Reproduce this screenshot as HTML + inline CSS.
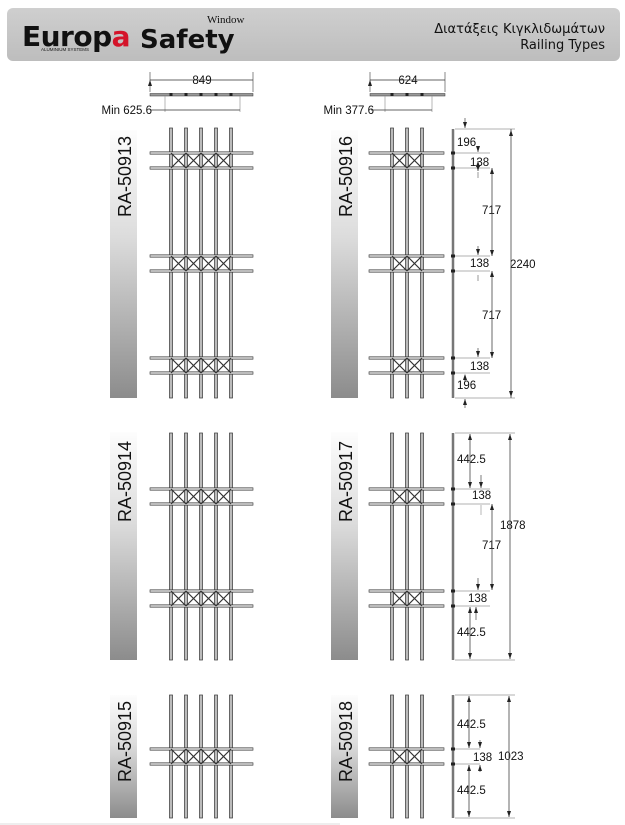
<!DOCTYPE html>
<html><head><meta charset="utf-8"><style>
html,body{margin:0;padding:0;background:#fff;width:625px;height:825px;overflow:hidden}
svg{display:block}
text{font-family:"Liberation Sans",Arial,sans-serif;fill:#111}
</style></head><body>
<svg id="s" width="625" height="825" viewBox="0 0 625 825" xmlns="http://www.w3.org/2000/svg">
<defs>
<linearGradient id="hg" x1="0" y1="0" x2="0" y2="1"><stop offset="0" stop-color="#cfcfcf"/><stop offset="1" stop-color="#bdbdbd"/></linearGradient>
<linearGradient id="lg" x1="0" y1="0" x2="0" y2="1"><stop offset="0" stop-color="#fdfdfd"/><stop offset="0.4" stop-color="#dcdcdc"/><stop offset="1" stop-color="#8c8c8c"/></linearGradient>
</defs>
<rect x="7" y="8" width="613" height="53" rx="6" fill="url(#hg)"/>
<text x="22" y="46" font-size="28" font-weight="bold" fill="#111" style="font-family:'DejaVu Sans',sans-serif;letter-spacing:-0.5px">Europ<tspan fill="#d4142a">a</tspan></text>
<text x="41" y="51" font-size="4.5" fill="#111">ALUMINIUM SYSTEMS</text>
<text x="140" y="48" font-size="26" font-weight="bold" fill="#555" style="font-family:'DejaVu Sans',sans-serif">Safety</text>
<text x="207" y="23" font-size="11" fill="#666" style="font-family:'Liberation Serif',serif">Window</text>
<text x="605" y="33" font-size="13" text-anchor="end" style="font-family:'DejaVu Sans',sans-serif" fill="#222">Διατάξεις Κιγκλιδωμάτων</text>
<text x="605" y="49" font-size="13" text-anchor="end" style="font-family:'DejaVu Sans',sans-serif" fill="#222">Railing Types</text>

<g font-size="11.5">
<text x="202" y="84" text-anchor="middle">849</text>
<text x="152" y="114" text-anchor="end">Min 625.6</text>
<text x="408" y="84" text-anchor="middle">624</text>
<text x="374" y="114" text-anchor="end">Min 377.6</text>

<text x="457" y="146">196</text>
<text x="470" y="166">138</text>
<text x="482" y="214">717</text>
<text x="470" y="267">138</text>
<text x="482" y="319">717</text>
<text x="470" y="370">138</text>
<text x="457" y="389">196</text>
<text x="510" y="268">2240</text>

<text x="457" y="463">442.5</text>
<text x="472" y="499">138</text>
<text x="482" y="549">717</text>
<text x="500" y="529">1878</text>
<text x="468" y="602">138</text>
<text x="457" y="636">442.5</text>

<text x="457" y="728">442.5</text>
<text x="473" y="761">138</text>
<text x="498" y="760">1023</text>
<text x="457" y="794">442.5</text>
</g>
<g>
<text transform="translate(131,217) rotate(-90)" style="font-size:18px">RA-50913</text>
<text transform="translate(352,217) rotate(-90)" style="font-size:18px">RA-50916</text>
<text transform="translate(131,522) rotate(-90)" style="font-size:18px">RA-50914</text>
<text transform="translate(352,522) rotate(-90)" style="font-size:18px">RA-50917</text>
<text transform="translate(131,782) rotate(-90)" style="font-size:18px">RA-50915</text>
<text transform="translate(352,782) rotate(-90)" style="font-size:18px">RA-50918</text>
</g>
<line x1="0" y1="824" x2="340" y2="824" stroke="#ddd"/>
</svg>
<script>
var s=document.getElementById('s'),NS='http://www.w3.org/2000/svg';
function el(t,a,front){var e=document.createElementNS(NS,t);for(var k in a)e.setAttribute(k,a[k]);if(front)s.insertBefore(e,s.children[3]);else s.appendChild(e);return e;}
function L(x1,y1,x2,y2,c,w){return el('line',{x1:x1,y1:y1,x2:x2,y2:y2,stroke:c||'#222','stroke-width':w||1});}
function arrow(x,y,dir){var d=dir>0?[x-2,y-6,x+2,y-6]:[x-2,y+6,x+2,y+6];el('polygon',{points:x+','+y+' '+d[0]+','+d[1]+' '+d[2]+','+d[3],fill:'#222'});}
function dim(x,y1,y2){L(x,y1,x,y2,'#444',0.8);arrow(x,y1,-1);arrow(x,y2,1);}
function strip(x,y1,y2){el('rect',{x:x,y:y1,width:27,height:y2-y1,fill:'url(#lg)'},true);}
function railing(xs,hx1,hx2,y1,y2,pairs){
  xs.forEach(function(x){el('rect',{x:x-1.5,y:y1,width:3,height:y2-y1,fill:'#bbb',stroke:'#333','stroke-width':0.7});});
  pairs.forEach(function(p){
    [p,p+15].forEach(function(y){el('rect',{x:hx1,y:y-1.2,width:hx2-hx1,height:2.4,fill:'#ccc',stroke:'#333','stroke-width':0.6});});
    for(var i=0;i<xs.length-1;i++){L(xs[i],p,xs[i+1],p+15,'#333',1.2);L(xs[i+1],p,xs[i],p+15,'#333',1.2);}
  });
}
strip(110,130,398);strip(331,130,398);strip(110,432,660);strip(331,432,660);strip(110,695,818);strip(331,695,818);
var L5=[171,186,201,216,231],R3=[392,407,422];
railing(L5,150,253,128,398,[153,256,358]);
railing(R3,369,444,128,398,[153,256,358]);
railing(L5,150,253,433,660,[489,591]);
railing(R3,369,444,433,660,[489,591]);
railing(L5,150,253,695,818,[749]);
railing(R3,369,444,695,818,[749]);
function topdim(x1,x2,dots,m1){L(x1,72,x1,92,'#555',0.7);L(x2,72,x2,92,'#555',0.7);L(x1,80,x2,80,'#333',0.8);arrow(x1,80,0);
 el('rect',{x:x1,y:93.5,width:x2-x1,height:2.5,fill:'#999',stroke:'#333','stroke-width':0.5});dots.forEach(function(d){el('rect',{x:d-1.5,y:93,width:3,height:3,fill:'#222'});});
 L(m1,96,m1,112,'#999',0.7);L(x2-13,96,x2-13,112,'#999',0.7);L(m1-14,110,x2-13,110,'#333',0.8);}
topdim(150,253,L5,165);topdim(370,445,R3,385);
function profile(y1,y2,marks){L(453,y1,453,y2,'#777',2.5);marks.forEach(function(m){el('rect',{x:451,y:m-1.5,width:4,height:3,fill:'#222'});});
 L(455,y1,515,y1,'#999',0.7);L(455,y2,515,y2,'#999',0.7);}
profile(129,398,[153,168,256,271,358,373]);
L(511,129,511,398,'#444',0.8);arrow(511,130,-1);arrow(511,397,1);
[153,168,256,271,358,373].forEach(function(y){L(455,y,490,y,'#999',0.7);});
L(465,118,465,128,'#444',0.7);arrow(465,128,1);dim(478,161,171);
L(478,148,478,152,'#444',0.7);arrow(478,152,1);
dim(492,168,256);L(478,172,478,178,'#999',1);L(478,246,478,255,'#444',0.7);arrow(478,255,1);
dim(492,271,358);L(478,275,478,281,'#999',1);L(478,348,478,357,'#444',0.7);arrow(478,357,1);
L(465,376,465,382,'#444',0.7);arrow(465,374,-1);L(465,399,465,408,'#444',0.7);arrow(465,399,-1);
profile(433,660,[489,504,591,606]);
dim(510,434,659);[489,504,591,606].forEach(function(y){L(455,y,490,y,'#999',0.7);});
dim(470,434,488);L(481,475,481,488,'#444',0.7);arrow(481,488,1);
dim(492,504,590);L(481,505,481,515,'#999',0.7);L(478,578,478,590,'#444',0.7);arrow(478,590,1);
dim(470,607,659);L(476,607,476,620,'#444',0.7);arrow(476,607,-1);
profile(695,818,[749,764]);
dim(509,696,817);[749,764].forEach(function(y){L(455,y,480,y,'#999',0.7);});
dim(469,696,748);dim(469,765,817);L(480,740,480,748,'#444',0.7);arrow(480,748,1);L(480,765,480,772,'#444',0.7);arrow(480,765,-1);
</script>
</body></html>
